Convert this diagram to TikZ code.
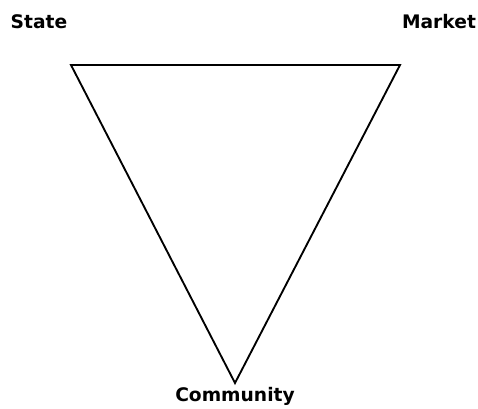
\documentclass[tikz,border=0pt]{standalone}
\usepackage{fontspec}
\newfontfamily\labelfont{DejaVu Sans}
\usepackage{tikz}
\usetikzlibrary{positioning}

\tikzset{
    corner/.style={inner sep=0pt, font=\labelfont\bfseries\fontsize{14}{16}\selectfont, anchor=base},
    side/.style={line width=1.4pt, line join=miter}
}

\begin{document}
\begin{tikzpicture}[x=0.75pt, y=-0.75pt]
    \useasboundingbox (0,0) rectangle (478,409);

    % vertices of the triangle
    \coordinate (s) at (71,65);
    \coordinate (m) at (400,65);
    \coordinate (c) at (235,383);

    \node[corner] (state) at (39,29) {State};
    \node[corner] (market) at (439,29) {Market};
    \node[corner] (community) at (235,402) {Community};

    \draw[side] (s) -- (m) -- (c) -- cycle;
\end{tikzpicture}
\end{document}
